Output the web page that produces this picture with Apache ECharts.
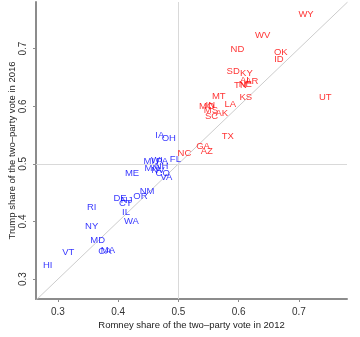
<!DOCTYPE html>
<html>
<head>
<meta charset="utf-8">
<title>Romney 2012 vs Trump 2016</title>
<script src="https://cdn.jsdelivr.net/npm/echarts@6/dist/echarts.min.js"></script>
<style>
  html, body { margin: 0; padding: 0; background: #fff; }
  #chart { width: 360px; height: 337px; }
</style>
</head>
<body>
<div id="chart"></div>
<script>
// state abbreviations
var states = ['WY','WV','ND','OK','ID','SD','KY','TN','NE','AR','AL','MT','KS','LA','IN','MO','MS','AK','SC','TX','GA','AZ','NC','UT',
              'IA','OH','FL','MI','WI','PA','MN','NV','NH','CO','VA','ME','NM','OR','DE','NJ','CT','IL','WA','RI','NY','MD','MA','CA','VT','HI'];
// Romney share of two-party vote, 2012
var romney2012 = [0.712,0.640,0.598,0.670,0.667,0.591,0.613,0.603,0.611,0.622,0.612,0.567,0.612,0.586,0.553,0.547,0.554,0.572,0.555,0.582,0.541,0.547,0.510,0.744,
                  0.469,0.484,0.495,0.451,0.464,0.473,0.456,0.466,0.472,0.474,0.480,0.423,0.448,0.437,0.403,0.414,0.412,0.413,0.422,0.356,0.356,0.366,0.383,0.378,0.317,0.283];
// Trump share of two-party vote, 2016
var trump2016 = [0.760,0.723,0.699,0.693,0.681,0.660,0.657,0.637,0.638,0.643,0.645,0.618,0.615,0.603,0.601,0.600,0.593,0.587,0.582,0.547,0.530,0.521,0.519,0.615,
                 0.550,0.544,0.507,0.504,0.506,0.505,0.492,0.488,0.495,0.484,0.476,0.483,0.453,0.444,0.441,0.437,0.432,0.415,0.401,0.425,0.391,0.368,0.350,0.348,0.347,0.324];
// party that won the state in 2012: R or D
var winner2012 = ['R','R','R','R','R','R','R','R','R','R','R','R','R','R','R','R','R','R','R','R','R','R','R','R',
                  'D','D','D','D','D','D','D','D','D','D','D','D','D','D','D','D','D','D','D','D','D','D','D','D','D','D'];
var tickValues = [0.3, 0.4, 0.5, 0.6, 0.7];

var xMin = 0.2635, xMax = 0.78, yMin = 0.2655, yMax = 0.781;

function pointsFor(party) {
  var out = [];
  for (var i = 0; i < states.length; i++) {
    if (winner2012[i] === party) out.push({ name: states[i], value: [romney2012[i], trump2016[i]] });
  }
  return out;
}

function stateSeries(party, color) {
  return {
    type: 'scatter',
    data: pointsFor(party),
    symbolSize: 1,
    itemStyle: { color: 'rgba(0,0,0,0)' },
    silent: true,
    z: 5,
    label: {
      show: true,
      position: 'inside',
      formatter: '{b}',
      color: color,
      fontFamily: 'Liberation Sans, Arial, sans-serif',
      fontSize: 9.5
    }
  };
}

var axisFont = 'Liberation Sans, Arial, sans-serif';
var chart = echarts.init(document.getElementById('chart'));
chart.setOption({
  animation: false,
  grid: { left: 36, right: 13, top: 2, bottom: 38, outerBoundsMode: 'none' },
  xAxis: {
    type: 'value', min: xMin, max: xMax,
    name: 'Romney share of the two\u2013party vote in 2012',
    nameLocation: 'middle', nameGap: 21, nameMoveOverlap: false,
    nameTextStyle: { color: '#222', fontSize: 9.5, fontFamily: axisFont },
    axisLine: { lineStyle: { color: '#8c8c8c', width: 2 } },
    axisTick: { show: true, length: 3, customValues: tickValues, lineStyle: { color: '#8c8c8c' } },
    axisLabel: { customValues: tickValues, color: '#333', fontSize: 10, fontFamily: axisFont, margin: 8 },
    splitLine: { show: false }
  },
  yAxis: {
    type: 'value', min: yMin, max: yMax,
    name: 'Trump share of the two\u2013party vote in 2016',
    nameLocation: 'middle', nameGap: 19, nameRotate: 90, nameMoveOverlap: false,
    nameTextStyle: { color: '#222', fontSize: 9.5, fontFamily: axisFont },
    axisLine: { show: true, lineStyle: { color: '#8c8c8c', width: 2 } },
    axisTick: { show: true, length: 3, customValues: tickValues, lineStyle: { color: '#8c8c8c' } },
    axisLabel: { customValues: tickValues, rotate: 90, color: '#333', fontSize: 10, fontFamily: axisFont, margin: 8 },
    splitLine: { show: false }
  },
  series: [
    {
      type: 'line',
      data: [[xMin, xMin], [yMax, yMax]],
      showSymbol: false,
      silent: true,
      z: 1,
      lineStyle: { color: '#cccccc', width: 1 },
      markLine: {
        silent: true,
        symbol: 'none',
        label: { show: false },
        lineStyle: { color: '#d9d9d9', width: 1, type: 'solid' },
        data: [{ xAxis: 0.5 }, { yAxis: 0.5 }]
      }
    },
    stateSeries('R', '#ff0000'),
    stateSeries('D', '#0000ff')
  ]
});
</script>
</body>
</html>
